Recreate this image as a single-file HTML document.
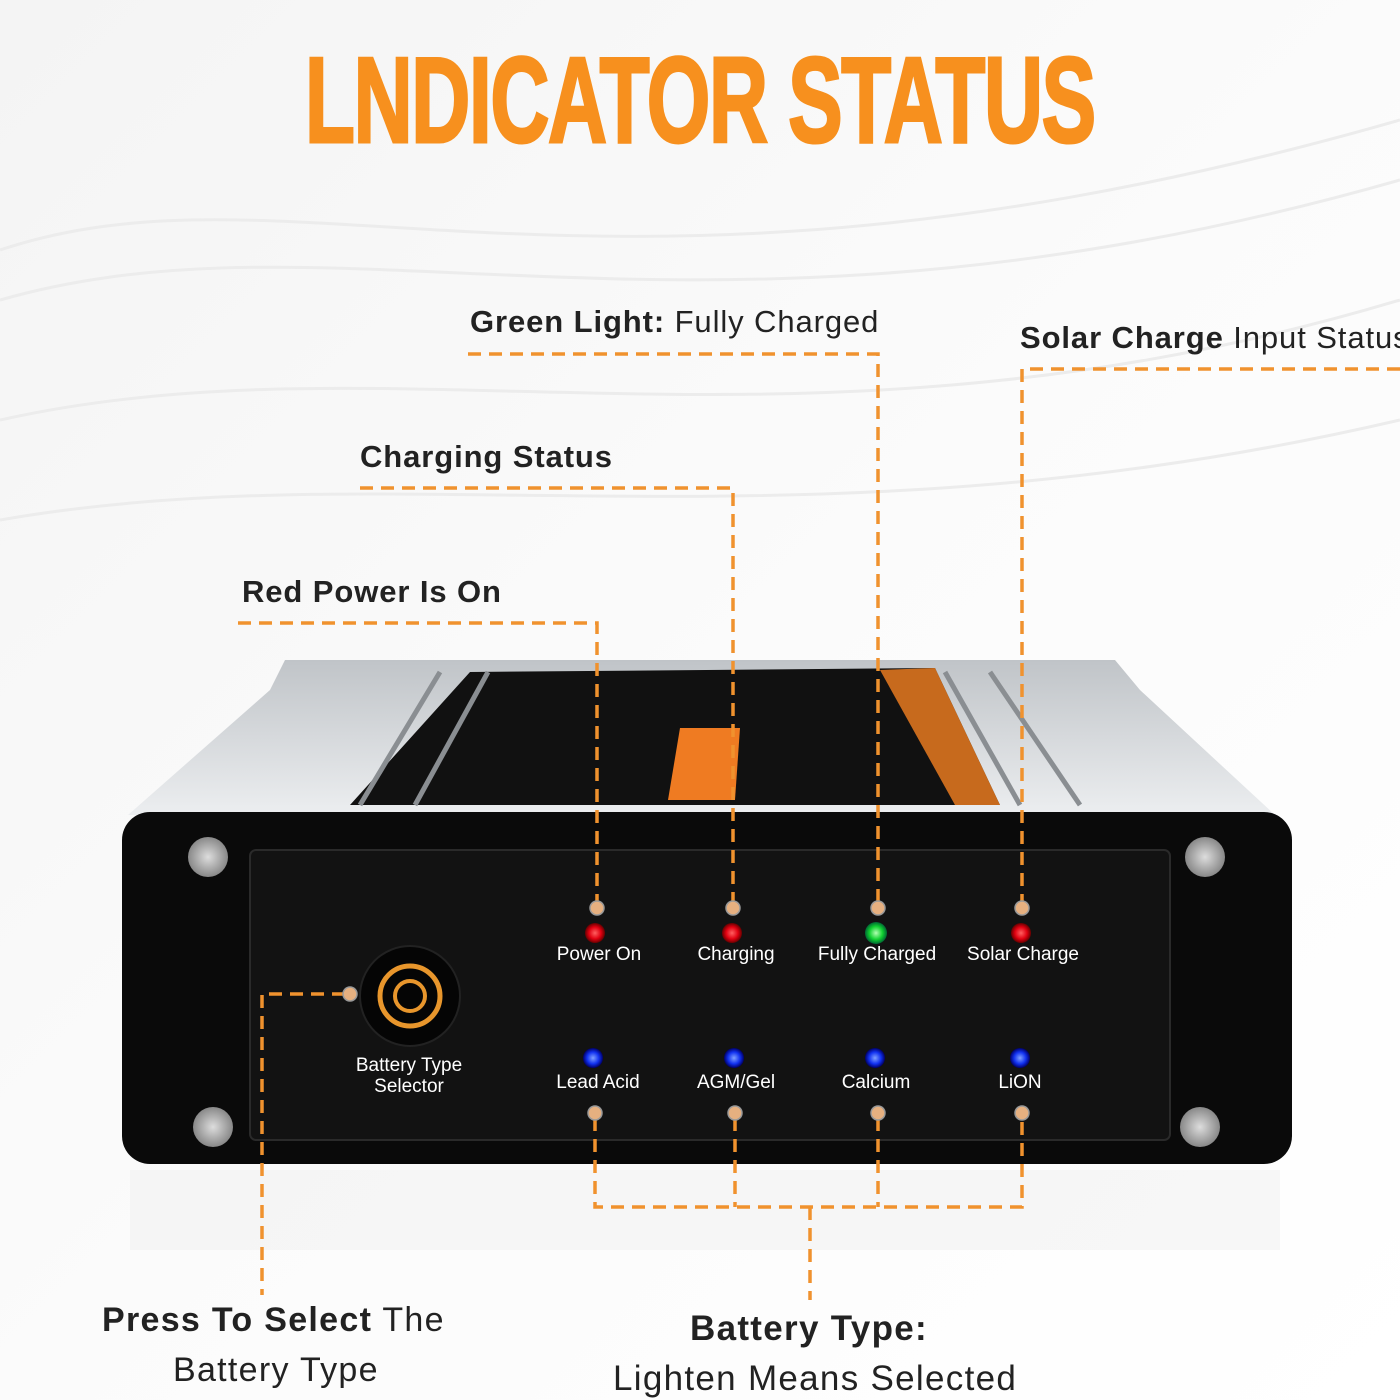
<!DOCTYPE html>
<html><head><style>
body{margin:0;width:1400px;height:1400px;overflow:hidden;background:#fff;font-family:"Liberation Sans",sans-serif;position:relative}
.t{position:absolute;color:#222;font-size:31px;white-space:nowrap;letter-spacing:0.9px}
.t b{font-weight:bold}
.l{position:absolute;color:#fff;font-size:19px;white-space:nowrap;transform:translateX(-50%);text-align:center;line-height:21px}
</style></head><body>
<svg width="1400" height="1400" style="position:absolute;left:0;top:0">
<defs>
<linearGradient id="bg" x1="0" y1="0" x2="1" y2="1"><stop offset="0" stop-color="#f4f4f4"/><stop offset="0.5" stop-color="#fbfbfb"/><stop offset="1" stop-color="#fff"/></linearGradient>
<linearGradient id="top" x1="0" y1="0" x2="0" y2="1"><stop offset="0" stop-color="#c0c4c8"/><stop offset="1" stop-color="#eceef0"/></linearGradient>
<radialGradient id="red"><stop offset="0" stop-color="#ff6060"/><stop offset="0.6" stop-color="#e00010"/><stop offset="1" stop-color="#600"/></radialGradient>
<radialGradient id="grn"><stop offset="0" stop-color="#b0ffb0"/><stop offset="0.6" stop-color="#10d030"/><stop offset="1" stop-color="#063"/></radialGradient>
<radialGradient id="blu"><stop offset="0" stop-color="#80a0ff"/><stop offset="0.6" stop-color="#1030f0"/><stop offset="1" stop-color="#006"/></radialGradient>
<radialGradient id="scr"><stop offset="0" stop-color="#ddd"/><stop offset="1" stop-color="#888"/></radialGradient>
</defs>
<rect width="1400" height="1400" fill="url(#bg)"/>
<g fill="none" stroke="#ececec" stroke-width="3">
<path d="M0 250 C300 150 600 350 1400 120"/><path d="M0 300 C350 200 700 380 1400 180"/><path d="M0 420 C400 330 800 480 1400 300"/><path d="M0 520 C400 450 800 560 1400 420"/>
</g>
<path d="M285 660 L1115 660 L1140 690 L1275 815 L128 815 L270 690 Z" fill="url(#top)"/>
<polygon points="470,672 935,668 1000,805 350,805" fill="#111"/>
<polygon points="880,670 935,668 1000,805 955,805" fill="#e87a20" opacity="0.85"/>
<polygon points="680,728 740,728 735,800 668,800" fill="#ef7b22"/>
<g stroke="#8a8e92" stroke-width="5"><line x1="440" y1="672" x2="360" y2="805"/><line x1="488" y1="672" x2="415" y2="805"/><line x1="945" y1="672" x2="1020" y2="805"/><line x1="990" y1="672" x2="1080" y2="805"/></g>
<rect x="122" y="812" width="1170" height="352" rx="28" fill="#0a0a0a"/>
<rect x="250" y="850" width="920" height="290" rx="6" fill="#121212" stroke="#2a2a2a" stroke-width="2"/>
<g fill="url(#scr)"><circle cx="208" cy="857" r="20"/><circle cx="1205" cy="857" r="20"/><circle cx="213" cy="1127" r="20"/><circle cx="1200" cy="1127" r="20"/></g>
<rect x="130" y="1170" width="1150" height="80" fill="#f2f2f2" opacity="0.6"/>
<circle cx="410" cy="996" r="50" fill="#050505" stroke="#222" stroke-width="2"/>
<circle cx="410" cy="996" r="30" fill="none" stroke="#e8962c" stroke-width="5"/>
<circle cx="410" cy="996" r="15" fill="none" stroke="#e8962c" stroke-width="4"/>
<circle cx="595" cy="933" r="10" fill="url(#red)"/><circle cx="732" cy="933" r="10" fill="url(#red)"/><circle cx="876" cy="933" r="11" fill="url(#grn)"/><circle cx="1021" cy="933" r="10" fill="url(#red)"/>
<circle cx="593" cy="1058" r="10" fill="url(#blu)"/><circle cx="734" cy="1058" r="10" fill="url(#blu)"/><circle cx="875" cy="1058" r="10" fill="url(#blu)"/><circle cx="1020" cy="1058" r="10" fill="url(#blu)"/>
<g fill="none" stroke="#f0922e" stroke-width="3.5" stroke-dasharray="13 8">
<polyline points="468,354 878,354 878,905"/>
<polyline points="1400,369 1022,369 1022,905"/>
<polyline points="360,488 733,488 733,905"/>
<polyline points="238,623 597,623 597,905"/>
<polyline points="595,1118 595,1207 1022,1207 1022,1118"/>
<line x1="735" y1="1118" x2="735" y2="1207"/><line x1="878" y1="1118" x2="878" y2="1207"/>
<line x1="810" y1="1207" x2="810" y2="1300"/>
<polyline points="345,994 262,994 262,1295"/>
</g>
<g fill="#e6b080" stroke="#999" stroke-width="1.5">
<circle cx="597" cy="908" r="7"/><circle cx="733" cy="908" r="7"/><circle cx="878" cy="908" r="7"/><circle cx="1022" cy="908" r="7"/>
<circle cx="595" cy="1113" r="7"/><circle cx="735" cy="1113" r="7"/><circle cx="878" cy="1113" r="7"/><circle cx="1022" cy="1113" r="7"/>
<circle cx="350" cy="994" r="7"/>
</g>
</svg>
<div style="position:absolute;left:305px;top:40px;height:120px;color:#f7901e;font-weight:bold;font-size:122px;line-height:120px;white-space:nowrap;transform-origin:0 0;transform:scaleX(0.67);letter-spacing:-2px;-webkit-text-stroke:3px #f7901e">LNDICATOR STATUS</div>
<div class="t" style="left:470px;top:304px"><b>Green Light:</b> Fully Charged</div>
<div class="t" style="left:1020px;top:320px"><b>Solar Charge</b> Input Status</div>
<div class="t" style="left:360px;top:439px"><b>Charging Status</b></div>
<div class="t" style="left:242px;top:574px"><b>Red Power Is On</b></div>
<div class="t" style="left:102px;top:1301px;font-size:34px;letter-spacing:1.3px"><b>Press To Select</b> The</div>
<div class="t" style="left:173px;top:1351px;font-size:34px;letter-spacing:1.3px">Battery Type</div>
<div class="t" style="left:690px;top:1309px;font-size:35px;letter-spacing:1.3px"><b>Battery Type:</b></div>
<div class="t" style="left:613px;top:1359px;font-size:35px;letter-spacing:1.3px">Lighten Means Selected</div>
<div class="l" style="left:599px;top:944px">Power On</div>
<div class="l" style="left:736px;top:944px">Charging</div>
<div class="l" style="left:877px;top:944px">Fully Charged</div>
<div class="l" style="left:1023px;top:944px">Solar Charge</div>
<div class="l" style="left:598px;top:1072px">Lead Acid</div>
<div class="l" style="left:736px;top:1072px">AGM/Gel</div>
<div class="l" style="left:876px;top:1072px">Calcium</div>
<div class="l" style="left:1020px;top:1072px">LiON</div>
<div class="l" style="left:409px;top:1055px">Battery Type<br>Selector</div>
</body></html>
